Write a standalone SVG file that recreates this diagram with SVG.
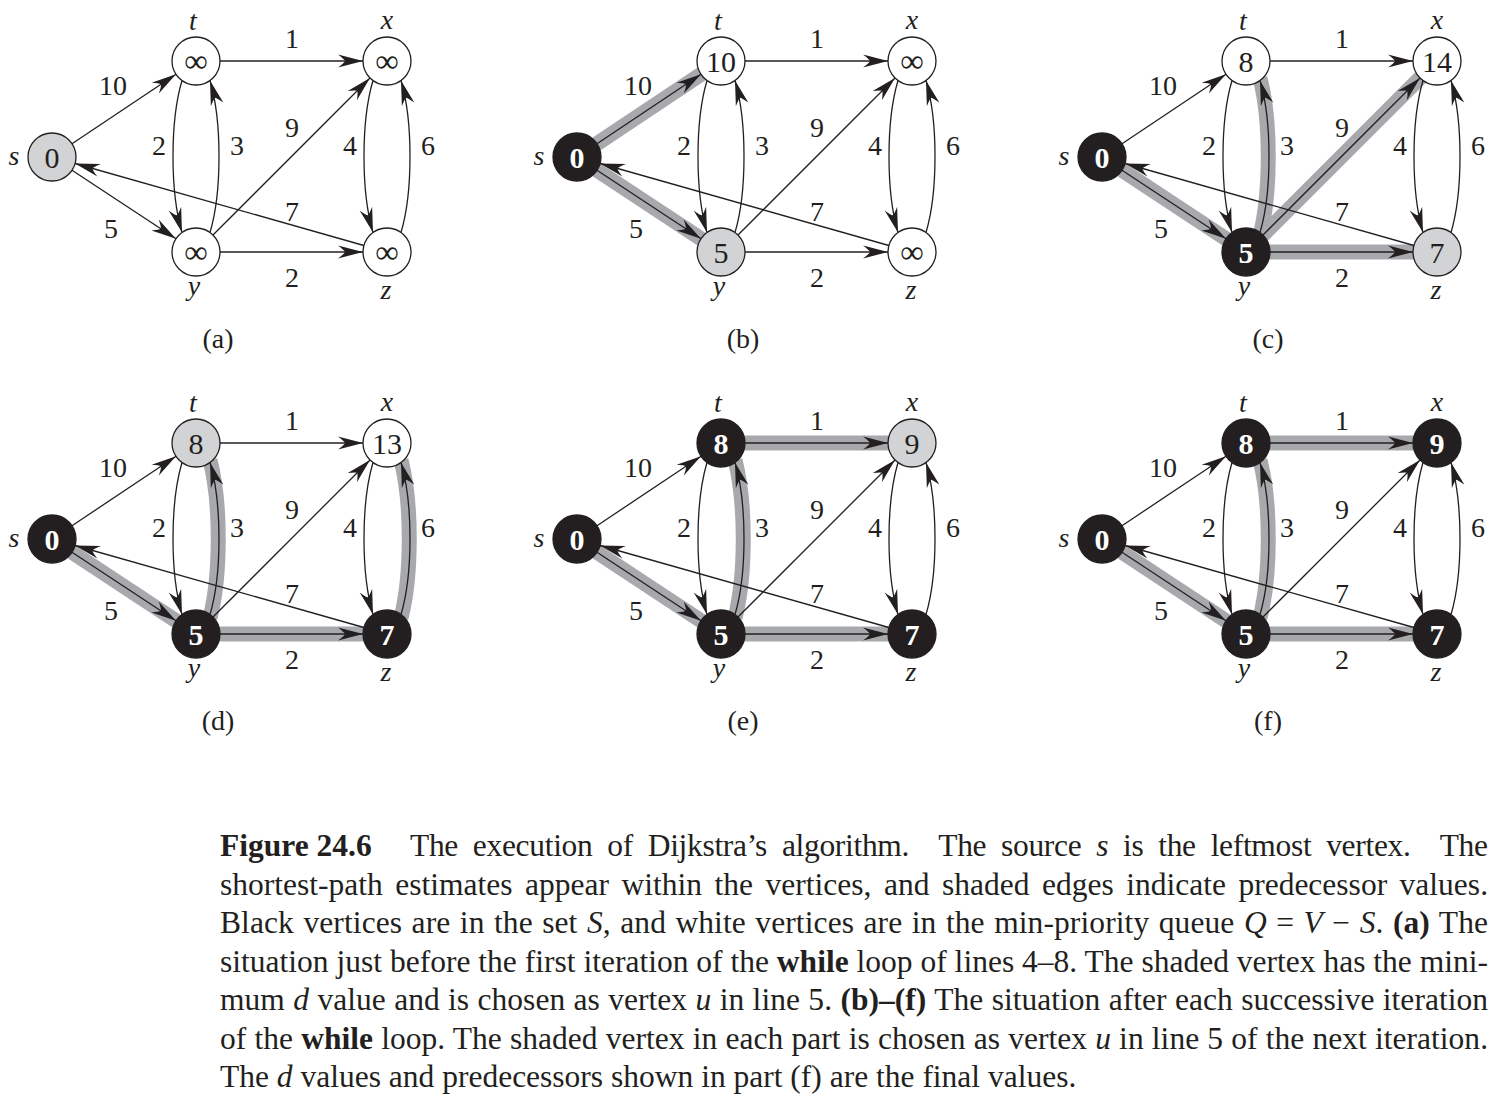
<svg xmlns="http://www.w3.org/2000/svg" width="1496" height="1096" viewBox="0 0 1496 1096">
<style>
text{font-family:"Liberation Serif","Times New Roman",serif;fill:#231f20}
.w{font-size:28px;text-anchor:middle}
.nm{font-size:28px;font-style:italic;text-anchor:middle}
.val{font-size:30px;text-anchor:middle}
.valb{font-size:30px;font-weight:bold;text-anchor:middle;fill:#fff}
.inf{font-size:33px;text-anchor:middle}
.pl{font-size:28px;text-anchor:middle}
.nw{fill:#fff;stroke:#231f20;stroke-width:1.3}
.ng{fill:#d1d3d4;stroke:#231f20;stroke-width:1.3}
.nb{fill:#231f20;stroke:#231f20;stroke-width:1.3}
.edge{fill:none;stroke:#231f20;stroke-width:1.3;marker-end:url(#ah)}
.band{fill:none;stroke:#a7a9ac;stroke-width:15}
.cap{font-size:31.5px}
.b{font-weight:bold}
.i{font-style:italic}
</style>
<defs>
<marker id="ah" markerUnits="userSpaceOnUse" markerWidth="30" markerHeight="20" viewBox="-28 -10 30 20" refX="0" refY="0" orient="auto">
<path d="M0,0 L-25,-6.5 Q-19,-2 -18,0 Q-19,2 -25,6.5 Z" fill="#231f20" stroke="none"/>
</marker>
</defs>

<!-- Panel (a) -->
<g id="panel-a">
<g id="a-connectors">
<path class="edge" d="M72,143.7 L176,74.3"/>
<path class="edge" d="M72,170.3 L176,238.7"/>
<path class="edge" d="M220,61 L363,61"/>
<path class="edge" d="M182,80.5 C170,121 170,192 182,232.5"/>
<path class="edge" d="M210,232.5 C222,192 222,121 210,80.5"/>
<path class="edge" d="M213,235 L370,78"/>
<path class="edge" d="M220,252 L363,252"/>
<path class="edge" d="M373,80.5 C361,121 361,192 373,232.5"/>
<path class="edge" d="M401,232.5 C413,192 413,121 401,80.5"/>
<path class="edge" d="M363.9,245.5 L75.1,163.5"/>
<text class="w" x="113" y="95">10</text><text class="w" x="292" y="48">1</text><text class="w" x="159" y="155">2</text><text class="w" x="237" y="155">3</text><text class="w" x="292" y="137">9</text><text class="w" x="350" y="155">4</text><text class="w" x="428" y="155">6</text><text class="w" x="292" y="221">7</text><text class="w" x="111" y="238">5</text><text class="w" x="292" y="287">2</text>
</g>
<g id="a-s"><circle cx="52" cy="157" r="24" class="ng"/><text class="val" x="52" y="167.5">0</text><text class="nm" x="14" y="165">s</text></g>
<g id="a-t"><circle cx="196" cy="61" r="24" class="nw"/><text class="inf" x="196" y="72">∞</text><text class="nm" x="193" y="30">t</text></g>
<g id="a-x"><circle cx="387" cy="61" r="24" class="nw"/><text class="inf" x="387" y="72">∞</text><text class="nm" x="387" y="29">x</text></g>
<g id="a-y"><circle cx="196" cy="252" r="24" class="nw"/><text class="inf" x="196" y="263">∞</text><text class="nm" x="194" y="295">y</text></g>
<g id="a-z"><circle cx="387" cy="252" r="24" class="nw"/><text class="inf" x="387" y="263">∞</text><text class="nm" x="386" y="299">z</text></g>
<text class="pl" x="218" y="348">(a)</text>
</g>

<!-- Panel (b) -->
<g id="panel-b" transform="translate(525,0)">
<g id="b-connectors">
<path class="band" d="M52,157 L196,61"/>
<path class="band" d="M52,157 L196,252"/>
<path class="edge" d="M72,143.7 L176,74.3"/>
<path class="edge" d="M72,170.3 L176,238.7"/>
<path class="edge" d="M220,61 L363,61"/>
<path class="edge" d="M182,80.5 C170,121 170,192 182,232.5"/>
<path class="edge" d="M210,232.5 C222,192 222,121 210,80.5"/>
<path class="edge" d="M213,235 L370,78"/>
<path class="edge" d="M220,252 L363,252"/>
<path class="edge" d="M373,80.5 C361,121 361,192 373,232.5"/>
<path class="edge" d="M401,232.5 C413,192 413,121 401,80.5"/>
<path class="edge" d="M363.9,245.5 L75.1,163.5"/>
<text class="w" x="113" y="95">10</text><text class="w" x="292" y="48">1</text><text class="w" x="159" y="155">2</text><text class="w" x="237" y="155">3</text><text class="w" x="292" y="137">9</text><text class="w" x="350" y="155">4</text><text class="w" x="428" y="155">6</text><text class="w" x="292" y="221">7</text><text class="w" x="111" y="238">5</text><text class="w" x="292" y="287">2</text>
</g>
<g id="b-s"><circle cx="52" cy="157" r="24" class="nb"/><text class="valb" x="52" y="167.5">0</text><text class="nm" x="14" y="165">s</text></g>
<g id="b-t"><circle cx="196" cy="61" r="24" class="nw"/><text class="val" x="196" y="71.5">10</text><text class="nm" x="193" y="30">t</text></g>
<g id="b-x"><circle cx="387" cy="61" r="24" class="nw"/><text class="inf" x="387" y="72">∞</text><text class="nm" x="387" y="29">x</text></g>
<g id="b-y"><circle cx="196" cy="252" r="24" class="ng"/><text class="val" x="196" y="262.5">5</text><text class="nm" x="194" y="295">y</text></g>
<g id="b-z"><circle cx="387" cy="252" r="24" class="nw"/><text class="inf" x="387" y="263">∞</text><text class="nm" x="386" y="299">z</text></g>
<text class="pl" x="218" y="348">(b)</text>
</g>

<!-- Panel (c) -->
<g id="panel-c" transform="translate(1050,0)">
<g id="c-connectors">
<path class="band" d="M52,157 L196,252"/>
<path class="band" d="M210,236 C221,192 221,121 210,78"/>
<path class="band" d="M196,252 L387,61"/>
<path class="band" d="M196,252 L387,252"/>
<path class="edge" d="M72,143.7 L176,74.3"/>
<path class="edge" d="M72,170.3 L176,238.7"/>
<path class="edge" d="M220,61 L363,61"/>
<path class="edge" d="M182,80.5 C170,121 170,192 182,232.5"/>
<path class="edge" d="M210,232.5 C222,192 222,121 210,80.5"/>
<path class="edge" d="M213,235 L370,78"/>
<path class="edge" d="M220,252 L363,252"/>
<path class="edge" d="M373,80.5 C361,121 361,192 373,232.5"/>
<path class="edge" d="M401,232.5 C413,192 413,121 401,80.5"/>
<path class="edge" d="M363.9,245.5 L75.1,163.5"/>
<text class="w" x="113" y="95">10</text><text class="w" x="292" y="48">1</text><text class="w" x="159" y="155">2</text><text class="w" x="237" y="155">3</text><text class="w" x="292" y="137">9</text><text class="w" x="350" y="155">4</text><text class="w" x="428" y="155">6</text><text class="w" x="292" y="221">7</text><text class="w" x="111" y="238">5</text><text class="w" x="292" y="287">2</text>
</g>
<g id="c-s"><circle cx="52" cy="157" r="24" class="nb"/><text class="valb" x="52" y="167.5">0</text><text class="nm" x="14" y="165">s</text></g>
<g id="c-t"><circle cx="196" cy="61" r="24" class="nw"/><text class="val" x="196" y="71.5">8</text><text class="nm" x="193" y="30">t</text></g>
<g id="c-x"><circle cx="387" cy="61" r="24" class="nw"/><text class="val" x="387" y="71.5">14</text><text class="nm" x="387" y="29">x</text></g>
<g id="c-y"><circle cx="196" cy="252" r="24" class="nb"/><text class="valb" x="196" y="262.5">5</text><text class="nm" x="194" y="295">y</text></g>
<g id="c-z"><circle cx="387" cy="252" r="24" class="ng"/><text class="val" x="387" y="262.5">7</text><text class="nm" x="386" y="299">z</text></g>
<text class="pl" x="218" y="348">(c)</text>
</g>

<!-- Panel (d) -->
<g id="panel-d" transform="translate(0,382)">
<g id="d-connectors">
<path class="band" d="M52,157 L196,252"/>
<path class="band" d="M210,236 C221,192 221,121 210,78"/>
<path class="band" d="M196,252 L387,252"/>
<path class="band" d="M401,236 C412,192 412,121 401,78"/>
<path class="edge" d="M72,143.7 L176,74.3"/>
<path class="edge" d="M72,170.3 L176,238.7"/>
<path class="edge" d="M220,61 L363,61"/>
<path class="edge" d="M182,80.5 C170,121 170,192 182,232.5"/>
<path class="edge" d="M210,232.5 C222,192 222,121 210,80.5"/>
<path class="edge" d="M213,235 L370,78"/>
<path class="edge" d="M220,252 L363,252"/>
<path class="edge" d="M373,80.5 C361,121 361,192 373,232.5"/>
<path class="edge" d="M401,232.5 C413,192 413,121 401,80.5"/>
<path class="edge" d="M363.9,245.5 L75.1,163.5"/>
<text class="w" x="113" y="95">10</text><text class="w" x="292" y="48">1</text><text class="w" x="159" y="155">2</text><text class="w" x="237" y="155">3</text><text class="w" x="292" y="137">9</text><text class="w" x="350" y="155">4</text><text class="w" x="428" y="155">6</text><text class="w" x="292" y="221">7</text><text class="w" x="111" y="238">5</text><text class="w" x="292" y="287">2</text>
</g>
<g id="d-s"><circle cx="52" cy="157" r="24" class="nb"/><text class="valb" x="52" y="167.5">0</text><text class="nm" x="14" y="165">s</text></g>
<g id="d-t"><circle cx="196" cy="61" r="24" class="ng"/><text class="val" x="196" y="71.5">8</text><text class="nm" x="193" y="30">t</text></g>
<g id="d-x"><circle cx="387" cy="61" r="24" class="nw"/><text class="val" x="387" y="71.5">13</text><text class="nm" x="387" y="29">x</text></g>
<g id="d-y"><circle cx="196" cy="252" r="24" class="nb"/><text class="valb" x="196" y="262.5">5</text><text class="nm" x="194" y="295">y</text></g>
<g id="d-z"><circle cx="387" cy="252" r="24" class="nb"/><text class="valb" x="387" y="262.5">7</text><text class="nm" x="386" y="299">z</text></g>
<text class="pl" x="218" y="348">(d)</text>
</g>

<!-- Panel (e) -->
<g id="panel-e" transform="translate(525,382)">
<g id="e-connectors">
<path class="band" d="M52,157 L196,252"/>
<path class="band" d="M210,236 C221,192 221,121 210,78"/>
<path class="band" d="M196,61 L387,61"/>
<path class="band" d="M196,252 L387,252"/>
<path class="edge" d="M72,143.7 L176,74.3"/>
<path class="edge" d="M72,170.3 L176,238.7"/>
<path class="edge" d="M220,61 L363,61"/>
<path class="edge" d="M182,80.5 C170,121 170,192 182,232.5"/>
<path class="edge" d="M210,232.5 C222,192 222,121 210,80.5"/>
<path class="edge" d="M213,235 L370,78"/>
<path class="edge" d="M220,252 L363,252"/>
<path class="edge" d="M373,80.5 C361,121 361,192 373,232.5"/>
<path class="edge" d="M401,232.5 C413,192 413,121 401,80.5"/>
<path class="edge" d="M363.9,245.5 L75.1,163.5"/>
<text class="w" x="113" y="95">10</text><text class="w" x="292" y="48">1</text><text class="w" x="159" y="155">2</text><text class="w" x="237" y="155">3</text><text class="w" x="292" y="137">9</text><text class="w" x="350" y="155">4</text><text class="w" x="428" y="155">6</text><text class="w" x="292" y="221">7</text><text class="w" x="111" y="238">5</text><text class="w" x="292" y="287">2</text>
</g>
<g id="e-s"><circle cx="52" cy="157" r="24" class="nb"/><text class="valb" x="52" y="167.5">0</text><text class="nm" x="14" y="165">s</text></g>
<g id="e-t"><circle cx="196" cy="61" r="24" class="nb"/><text class="valb" x="196" y="71.5">8</text><text class="nm" x="193" y="30">t</text></g>
<g id="e-x"><circle cx="387" cy="61" r="24" class="ng"/><text class="val" x="387" y="71.5">9</text><text class="nm" x="387" y="29">x</text></g>
<g id="e-y"><circle cx="196" cy="252" r="24" class="nb"/><text class="valb" x="196" y="262.5">5</text><text class="nm" x="194" y="295">y</text></g>
<g id="e-z"><circle cx="387" cy="252" r="24" class="nb"/><text class="valb" x="387" y="262.5">7</text><text class="nm" x="386" y="299">z</text></g>
<text class="pl" x="218" y="348">(e)</text>
</g>

<!-- Panel (f) -->
<g id="panel-f" transform="translate(1050,382)">
<g id="f-connectors">
<path class="band" d="M52,157 L196,252"/>
<path class="band" d="M210,236 C221,192 221,121 210,78"/>
<path class="band" d="M196,61 L387,61"/>
<path class="band" d="M196,252 L387,252"/>
<path class="edge" d="M72,143.7 L176,74.3"/>
<path class="edge" d="M72,170.3 L176,238.7"/>
<path class="edge" d="M220,61 L363,61"/>
<path class="edge" d="M182,80.5 C170,121 170,192 182,232.5"/>
<path class="edge" d="M210,232.5 C222,192 222,121 210,80.5"/>
<path class="edge" d="M213,235 L370,78"/>
<path class="edge" d="M220,252 L363,252"/>
<path class="edge" d="M373,80.5 C361,121 361,192 373,232.5"/>
<path class="edge" d="M401,232.5 C413,192 413,121 401,80.5"/>
<path class="edge" d="M363.9,245.5 L75.1,163.5"/>
<text class="w" x="113" y="95">10</text><text class="w" x="292" y="48">1</text><text class="w" x="159" y="155">2</text><text class="w" x="237" y="155">3</text><text class="w" x="292" y="137">9</text><text class="w" x="350" y="155">4</text><text class="w" x="428" y="155">6</text><text class="w" x="292" y="221">7</text><text class="w" x="111" y="238">5</text><text class="w" x="292" y="287">2</text>
</g>
<g id="f-s"><circle cx="52" cy="157" r="24" class="nb"/><text class="valb" x="52" y="167.5">0</text><text class="nm" x="14" y="165">s</text></g>
<g id="f-t"><circle cx="196" cy="61" r="24" class="nb"/><text class="valb" x="196" y="71.5">8</text><text class="nm" x="193" y="30">t</text></g>
<g id="f-x"><circle cx="387" cy="61" r="24" class="nb"/><text class="valb" x="387" y="71.5">9</text><text class="nm" x="387" y="29">x</text></g>
<g id="f-y"><circle cx="196" cy="252" r="24" class="nb"/><text class="valb" x="196" y="262.5">5</text><text class="nm" x="194" y="295">y</text></g>
<g id="f-z"><circle cx="387" cy="252" r="24" class="nb"/><text class="valb" x="387" y="262.5">7</text><text class="nm" x="386" y="299">z</text></g>
<text class="pl" x="218" y="348">(f)</text>
</g>

<!-- Caption -->
<g id="caption" class="cap">
<text class="cap b" x="220" y="856">Figure 24.6</text>
<text class="cap" x="410" y="856" word-spacing="7.3" textLength="1078" lengthAdjust="spacing">The execution of Dijkstra’s algorithm.&#160; The source <tspan class="i">s</tspan> is the leftmost vertex.&#160; The</text>
<text class="cap" x="220" y="894.5" word-spacing="4.6" textLength="1268" lengthAdjust="spacing">shortest-path estimates appear within the vertices, and shaded edges indicate predecessor values.</text>
<text class="cap" x="220" y="933" word-spacing="1.5" textLength="1268" lengthAdjust="spacing">Black vertices are in the set <tspan class="i">S</tspan>, and white vertices are in the min-priority queue <tspan class="i">Q</tspan> = <tspan class="i">V</tspan> − <tspan class="i">S</tspan>. <tspan class="b">(a)</tspan> The</text>
<text class="cap" x="220" y="971.5" textLength="1268" lengthAdjust="spacing">situation just before the first iteration of the <tspan class="b">while</tspan> loop of lines 4–8. The shaded vertex has the mini-</text>
<text class="cap" x="220" y="1010" word-spacing="0.5" textLength="1268" lengthAdjust="spacing">mum <tspan class="i">d</tspan> value and is chosen as vertex <tspan class="i">u</tspan> in line 5. <tspan class="b">(b)–(f)</tspan> The situation after each successive iteration</text>
<text class="cap" x="220" y="1048.5" word-spacing="0.3" textLength="1268" lengthAdjust="spacing">of the <tspan class="b">while</tspan> loop. The shaded vertex in each part is chosen as vertex <tspan class="i">u</tspan> in line 5 of the next iteration.</text>
<text class="cap" x="220" y="1087">The <tspan class="i">d</tspan> values and predecessors shown in part (f) are the final values.</text>
</g>
</svg>
